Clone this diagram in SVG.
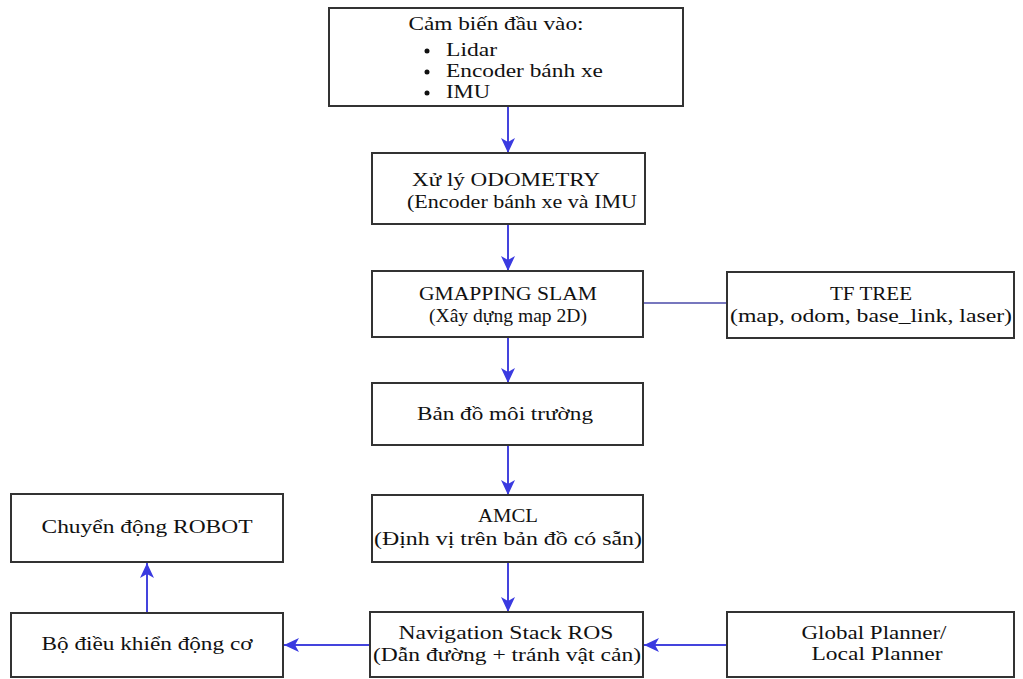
<svg xmlns="http://www.w3.org/2000/svg" width="1023" height="679" viewBox="0 0 1023 679">
<style>
.box{fill:#fff;stroke:#333;stroke-width:2}
.t{font-family:"Liberation Serif","Times New Roman",serif;font-size:18px;fill:#111}
.c{text-anchor:middle}
.arr{stroke:#4444dd;stroke-width:2;fill:none;marker-end:url(#ah)}
.ln{stroke:#4a4aa8;stroke-width:1.5;fill:none}
</style>
<defs>
<marker id="ah" markerUnits="userSpaceOnUse" markerWidth="16" markerHeight="14" refX="15" refY="7" orient="auto">
<path d="M0,0 L15,7 L0,14 L4,7 z" fill="#3a3ae0"/>
</marker>
</defs>
<rect width="1023" height="679" fill="#fff"/>
<g id="connectors">
<line class="arr" x1="508" y1="106" x2="508" y2="153"/>
<line class="arr" x1="508" y1="224" x2="508" y2="271"/>
<line class="arr" x1="508" y1="337" x2="508" y2="383"/>
<line class="arr" x1="508" y1="445" x2="508" y2="495"/>
<line class="arr" x1="508" y1="562" x2="508" y2="612"/>
<line class="ln" x1="643" y1="303" x2="727" y2="303"/>
<line class="arr" x1="727" y1="645" x2="644" y2="645"/>
<line class="arr" x1="370" y1="645" x2="284" y2="645"/>
<line class="arr" x1="147" y1="613" x2="147" y2="563"/>
</g>
<g id="sensors">
<rect class="box" x="329" y="8" width="354" height="98"/>
<text class="t c" x="496" y="30" textLength="175" lengthAdjust="spacingAndGlyphs">Cảm biến đầu vào:</text>
<circle cx="427" cy="51" r="2.5" fill="#111"/>
<circle cx="427" cy="72" r="2.5" fill="#111"/>
<circle cx="427" cy="93" r="2.5" fill="#111"/>
<text class="t" x="446" y="56" textLength="51" lengthAdjust="spacingAndGlyphs">Lidar</text>
<text class="t" x="446" y="77" textLength="157" lengthAdjust="spacingAndGlyphs">Encoder bánh xe</text>
<text class="t" x="446" y="98" textLength="44" lengthAdjust="spacingAndGlyphs">IMU</text>
</g>
<g id="odometry">
<rect class="box" x="372" y="153" width="273" height="71"/>
<text class="t c" x="506" y="186" textLength="188" lengthAdjust="spacingAndGlyphs">Xử lý ODOMETRY</text>
<text class="t c" x="522" y="208" textLength="230" lengthAdjust="spacingAndGlyphs">(Encoder bánh xe và IMU</text>
</g>
<g id="gmapping">
<rect class="box" x="372" y="271" width="271" height="66"/>
<text class="t c" x="508" y="300" textLength="178" lengthAdjust="spacingAndGlyphs">GMAPPING SLAM</text>
<text class="t c" x="508" y="322" textLength="158" lengthAdjust="spacingAndGlyphs">(Xây dựng map 2D)</text>
</g>
<g id="tftree">
<rect class="box" x="727" y="272" width="287" height="66"/>
<text class="t c" x="871" y="300" textLength="82" lengthAdjust="spacingAndGlyphs">TF TREE</text>
<text class="t c" x="871" y="322" textLength="282" lengthAdjust="spacingAndGlyphs">(map, odom, base_link, laser)</text>
</g>
<g id="map">
<rect class="box" x="372" y="383" width="271" height="62"/>
<text class="t c" x="505" y="420" textLength="176" lengthAdjust="spacingAndGlyphs">Bản đồ môi trường</text>
</g>
<g id="amcl">
<rect class="box" x="372" y="495" width="271" height="67"/>
<text class="t c" x="508" y="522" textLength="60" lengthAdjust="spacingAndGlyphs">AMCL</text>
<text class="t c" x="508" y="545" textLength="268" lengthAdjust="spacingAndGlyphs">(Định vị trên bản đồ có sẵn)</text>
</g>
<g id="navigation">
<rect class="box" x="370" y="612" width="273" height="65"/>
<text class="t c" x="506" y="639" textLength="215" lengthAdjust="spacingAndGlyphs">Navigation Stack ROS</text>
<text class="t c" x="507" y="661" textLength="268" lengthAdjust="spacingAndGlyphs">(Dẫn đường + tránh vật cản)</text>
</g>
<g id="planner">
<rect class="box" x="727" y="612" width="287" height="65"/>
<text class="t c" x="874" y="639" textLength="145" lengthAdjust="spacingAndGlyphs">Global Planner/</text>
<text class="t c" x="877" y="660" textLength="131" lengthAdjust="spacingAndGlyphs">Local Planner</text>
</g>
<g id="motor">
<rect class="box" x="11" y="613" width="272" height="64"/>
<text class="t c" x="147" y="650" textLength="211" lengthAdjust="spacingAndGlyphs">Bộ điều khiển động cơ</text>
</g>
<g id="robot">
<rect class="box" x="11" y="494" width="272" height="68"/>
<text class="t c" x="147" y="533" textLength="211" lengthAdjust="spacingAndGlyphs">Chuyển động ROBOT</text>
</g>
</svg>
